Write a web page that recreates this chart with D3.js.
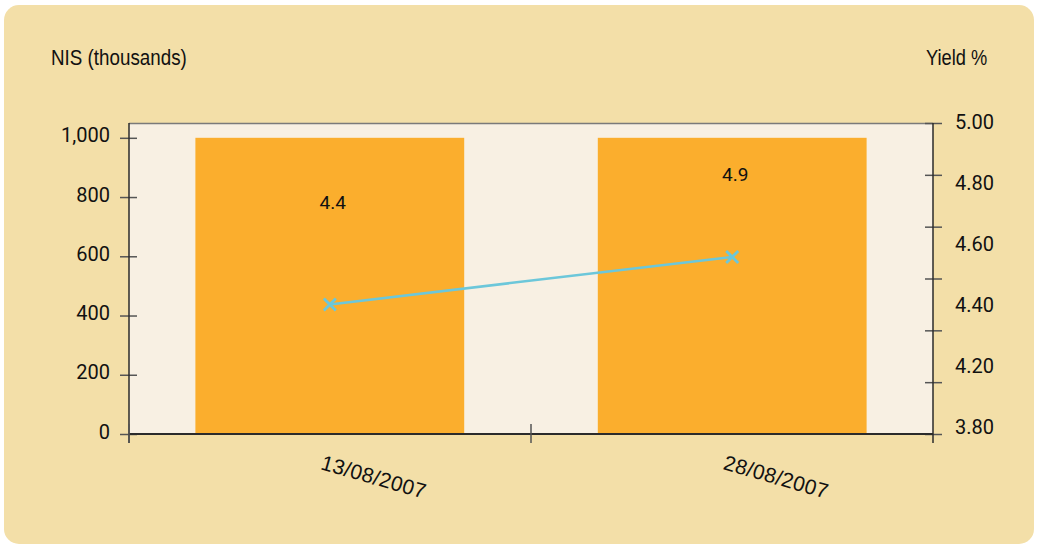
<!DOCTYPE html>
<html>
<head>
<meta charset="utf-8">
<script src="https://cdn.jsdelivr.net/npm/d3@7"></script>
<style>
  html, body { margin: 0; padding: 0; background: #ffffff; }
  svg { display: block; }
</style>
</head>
<body>
<svg id="chart" width="1037" height="546"></svg>
<script>
// Issue dates (x categories)
const dates = ["13/08/2007", "28/08/2007"];
// Amount issued, NIS thousands (bars, left axis)
const amounts = [1000, 1000];
// Yield % for each issue (line, and the figure printed in each bar)
const yields = [4.4, 4.9];
// Left axis tick values
const amountTicks = [0, 200, 400, 600, 800, 1000];
// Right axis tick marks and their printed labels
const yieldTickMarks = [3.8, 4.0, 4.2, 4.4, 4.6, 4.8, 5.0];
const yieldTickLabels = ["5.00", "4.80", "4.60", "4.40", "4.20", "3.80"];

const svg = d3.select("#chart");
const plot = { left: 129, right: 933, top: 123, bottom: 434 };
const ph = plot.bottom - plot.top;

const numFont = "Roboto, 'DejaVu Sans', sans-serif";
const titleFont = "'Liberation Sans', Arial, sans-serif";
const axisColor = "#2b2b2b";
const textColor = "#111111";

// Outer panel
svg.append("rect")
  .attr("x", 4).attr("y", 5)
  .attr("width", 1030).attr("height", 539)
  .attr("rx", 15).attr("ry", 15)
  .attr("fill", "#f3dfa8");

// Plot background
svg.append("rect")
  .attr("x", plot.left).attr("y", plot.top)
  .attr("width", plot.right - plot.left).attr("height", ph)
  .attr("fill", "#f8f0e3");
svg.append("line")
  .attr("x1", plot.left).attr("x2", plot.right)
  .attr("y1", plot.top + 0.5).attr("y2", plot.top + 0.5)
  .attr("stroke", "#7a7a7a").attr("stroke-width", 1.5);

// Scales
const x = d3.scaleBand()
  .domain(dates)
  .range([plot.left, plot.right])
  .paddingInner(0.332)
  .paddingOuter(0.165);

const yAmount = d3.scaleLinear().domain([0, 1050]).range([plot.bottom, plot.top]);
const yYieldAxis = d3.scaleLinear().domain([3.8, 5.0]).range([plot.bottom, plot.top]);
const yYieldLabels = d3.scalePoint().domain(yieldTickLabels).range([plot.top - 1, plot.bottom - 7]);
// Yield line scale
const yYieldLine = d3.scaleLinear().domain([3.8, 5.0])
  .range([plot.top + 0.7665 * ph, plot.top + 0.4 * ph]);
// Placement of the yield figure inside each bar
const yYieldText = d3.scaleLinear().domain([3.8, 5.0])
  .range([plot.top + 0.7665 * ph - 125, plot.top + 0.4 * ph - 79]);

// Bars
svg.append("g").selectAll("rect")
  .data(dates)
  .join("rect")
  .attr("x", d => x(d))
  .attr("y", (d, i) => yAmount(amounts[i]))
  .attr("width", x.bandwidth())
  .attr("height", (d, i) => yAmount(0) - yAmount(amounts[i]))
  .attr("fill", "#fbae2d");

// Yield figures inside bars
svg.append("g").selectAll("text")
  .data(dates)
  .join("text")
  .attr("x", d => x(d) + x.bandwidth() / 2 + 3)
  .attr("y", (d, i) => yYieldText(yields[i]))
  .attr("dy", "0.35em")
  .attr("text-anchor", "middle")
  .attr("font-family", numFont)
  .attr("font-size", 19)
  .attr("fill", textColor)
  .text((d, i) => yields[i].toFixed(1));

// Left axis
const leftAxis = svg.append("g")
  .attr("transform", `translate(${plot.left},0)`)
  .call(d3.axisLeft(yAmount).tickValues(amountTicks).tickFormat(d3.format(",")).tickSize(0));
leftAxis.select(".domain").remove();
leftAxis.selectAll(".tick line")
  .attr("x1", -9).attr("x2", 8)
  .attr("stroke", "#555").attr("stroke-width", 1.5);
leftAxis.selectAll(".tick text")
  .attr("x", -19).attr("dy", "0.2em")
  .attr("font-family", numFont).attr("font-size", 20)
  .attr("fill", textColor);
svg.append("line")
  .attr("x1", plot.left).attr("x2", plot.left)
  .attr("y1", plot.top).attr("y2", plot.bottom + 9)
  .attr("stroke", axisColor).attr("stroke-width", 1.5);

// Right axis: tick marks
const rightAxis = svg.append("g")
  .attr("transform", `translate(${plot.right},0)`)
  .call(d3.axisRight(yYieldAxis).tickValues(yieldTickMarks).tickFormat("").tickSize(0));
rightAxis.select(".domain").remove();
rightAxis.selectAll(".tick line")
  .attr("x1", -8).attr("x2", 9)
  .attr("stroke", "#555").attr("stroke-width", 1.5);
svg.append("line")
  .attr("x1", plot.right).attr("x2", plot.right)
  .attr("y1", plot.top).attr("y2", plot.bottom + 9)
  .attr("stroke", axisColor).attr("stroke-width", 1.5);
// Right axis: labels
svg.append("g").selectAll("text")
  .data(yieldTickLabels)
  .join("text")
  .attr("x", plot.right + 22)
  .attr("y", d => yYieldLabels(d))
  .attr("dy", "0.35em")
  .attr("font-family", numFont).attr("font-size", 20)
  .attr("fill", textColor)
  .text(d => d);

// Bottom axis
svg.append("line")
  .attr("x1", plot.left).attr("x2", plot.right)
  .attr("y1", plot.bottom).attr("y2", plot.bottom)
  .attr("stroke", axisColor).attr("stroke-width", 2);
const bandEdges = [plot.left].concat(
  dates.slice(0, -1).map(d => x(d) + x.bandwidth() + x.step() * x.paddingInner() / 2));
svg.append("g").selectAll("line")
  .data(bandEdges)
  .join("line")
  .attr("x1", d => d).attr("x2", d => d)
  .attr("y1", plot.bottom - 10).attr("y2", plot.bottom + 9)
  .attr("stroke", "#555").attr("stroke-width", 1.5);

// Date labels
svg.append("g").selectAll("text")
  .data(dates)
  .join("text")
  .attr("transform", d => `translate(${x(d) + x.bandwidth() / 2 - 10},469) rotate(16)`)
  .attr("font-family", "'Liberation Sans', Arial, sans-serif")
  .attr("font-size", 21)
  .attr("letter-spacing", 0.3)
  .attr("fill", textColor)
  .text(d => d);

// Yield line
const line = d3.line()
  .x((d, i) => x(dates[i]) + x.bandwidth() / 2)
  .y(d => yYieldLine(d));
svg.append("path")
  .datum(yields)
  .attr("d", line)
  .attr("fill", "none")
  .attr("stroke", "#6cc7da")
  .attr("stroke-width", 2.5);
svg.append("g").selectAll("path")
  .data(yields)
  .join("path")
  .attr("transform", (d, i) => `translate(${x(dates[i]) + x.bandwidth() / 2},${yYieldLine(d)})`)
  .attr("d", "M-6,-6L6,6M-6,6L6,-6")
  .attr("stroke", "#6cc7da")
  .attr("stroke-width", 2.8)
  .attr("fill", "none");

// Axis titles (condensed)
svg.append("text")
  .attr("transform", "translate(51,65) scale(0.855,1)")
  .attr("font-family", titleFont).attr("font-size", 22)
  .attr("fill", textColor)
  .text("NIS (thousands)");
svg.append("text")
  .attr("transform", "translate(926,65) scale(0.83,1)")
  .attr("font-family", titleFont).attr("font-size", 22)
  .attr("fill", textColor)
  .text("Yield %");
</script>
</body>
</html>
